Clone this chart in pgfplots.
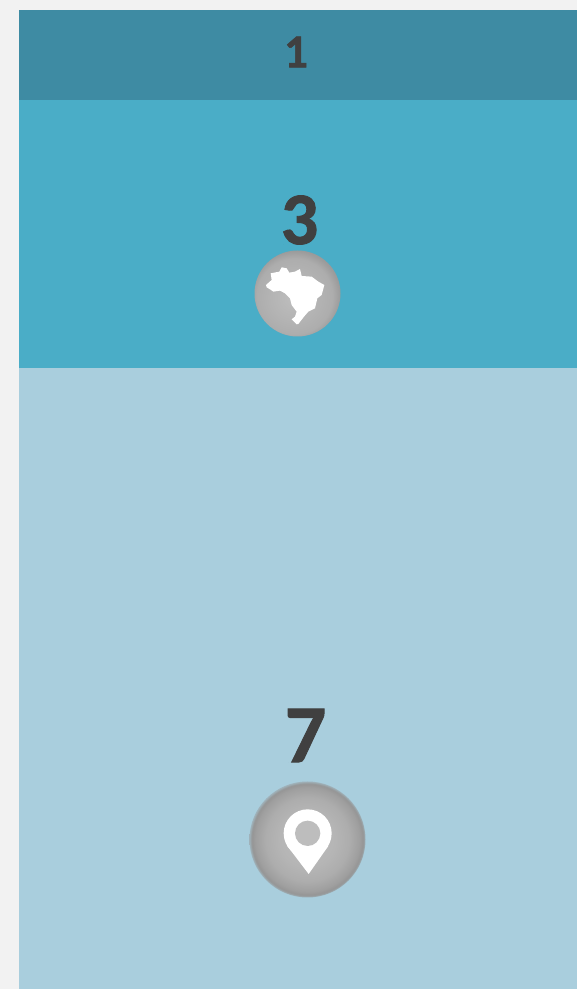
\documentclass[border=0pt]{standalone}
\usepackage{pgfplots}
\pgfplotsset{compat=1.18}
\usepackage{fontspec}
\setmainfont[BoldFeatures={FakeBold=1.2}]{Carlito}
\definecolor{pagebg}{HTML}{F2F2F2}
\definecolor{segA}{HTML}{3E8BA3}
\definecolor{segB}{HTML}{4AADC7}
\definecolor{segC}{HTML}{A9CEDD}
\definecolor{lab}{HTML}{404040}
\definecolor{ballIn}{HTML}{BDBDBD}
\definecolor{ballMid}{HTML}{ADADAD}
\definecolor{ballRim}{HTML}{959595}
\pgfdeclareradialshading{ballA}{\pgfpoint{-3bp}{-3bp}}{color(0bp)=(ballIn); color(14bp)=(ballMid!60!ballIn); color(22bp)=(ballMid); color(26bp)=(ballRim!70!ballMid); color(29bp)=(ballRim); color(50bp)=(ballRim)}
\pgfdeclareradialshading{ballB}{\pgfpoint{0bp}{0bp}}{color(0bp)=(ballIn); color(12bp)=(ballMid!50!ballIn); color(18bp)=(ballMid); color(22.5bp)=(ballRim!60!ballMid); color(24bp)=(ballRim); color(25bp)=(ballRim!50!segC); color(50bp)=(ballRim!50!segC)}
\begin{document}
\begin{tikzpicture}[x=1pt,y=1pt]
\useasboundingbox (0,0) rectangle (577,989);
\fill[pagebg] (0,0) rectangle (577,989);
\begin{axis}[
  at={(19pt,0pt)}, anchor=south west,
  scale only axis, width=558pt, height=979pt,
  axis lines=none,
  ybar stacked, bar width=558pt, bar shift=0pt,
  xmin=-0.5, xmax=0.5, ymin=0.074, ymax=11,
  xtick=\empty, ytick=\empty,
]
\addplot[fill=segC, draw=none] coordinates {(0,7)};
\addplot[fill=segB, draw=none] coordinates {(0,3)};
\addplot[fill=segA, draw=none] coordinates {(0,1)};
\end{axis}
\begin{scope}[shift={(0pt,989pt)},x=1pt,y=-1pt]
  \node[text=lab,font=\fontsize{47}{47}\selectfont\bfseries,inner sep=0pt] at (296,52) {1};
  \node[text=lab,font=\fontsize{74}{74}\selectfont\bfseries,inner sep=0pt] at (299.5,220) {3};
  \node[text=lab,font=\fontsize{82}{82}\selectfont\bfseries,inner sep=0pt] at (305.5,735.5) {7};
  % Brazil badge
  \shade[shading=ballA] (297.5,293.5) circle[radius=43];
  \begin{scope}[shift={(230,170)},x=0.3333pt,y=-0.3333pt]
    \fill[white] (108,345) -- (125,330) -- (122,310) -- (148,305) -- (155,292) -- (170,295) -- (178,308) -- (195,305) -- (210,297) -- (215,318) -- (245,320) -- (265,335) -- (283,345) -- (275,375) -- (262,385) -- (255,415) -- (235,425) -- (222,440) -- (205,462) -- (200,463) -- (185,448) -- (195,440) -- (200,425) -- (185,405) -- (180,385) -- (165,370) -- (150,362) -- (130,365) -- (120,358) -- (110,352) -- cycle;
  \end{scope}
  % Pin badge
  \shade[shading=ballB] (307.5,839.5) circle[radius=58];
  \begin{scope}[shift={(230,690)},x=0.3333pt,y=-0.3333pt]
    \fill[white] (233,430) circle[radius=72];
    \fill[white] (172,468) -- (295,468) -- (236,552) -- cycle;
    \fill[ballIn] (233,430) circle[radius=38];
  \end{scope}
\end{scope}
\end{tikzpicture}
\end{document}
